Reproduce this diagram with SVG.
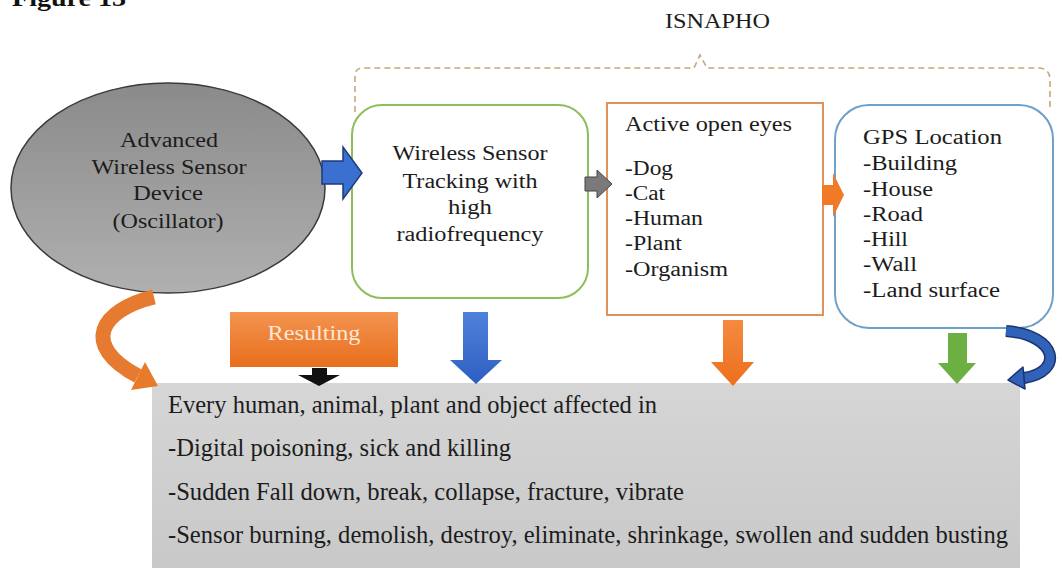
<svg xmlns="http://www.w3.org/2000/svg" width="1062" height="568" viewBox="0 0 1062 568">
<style>
text{font-family:'Liberation Serif','Times New Roman',Times,serif;font-size:20px;fill:#1c1c1c}
.c{text-anchor:middle}
.g{font-size:25px}
</style>
<defs>
<linearGradient id="ell" x1="0" y1="0" x2="0" y2="1"><stop offset="0" stop-color="#8a8a8a"/><stop offset="1" stop-color="#b0b0b0"/></linearGradient>
<linearGradient id="gbox" x1="0" y1="0" x2="0" y2="1"><stop offset="0" stop-color="#d6d6d6"/><stop offset="1" stop-color="#c8c8c8"/></linearGradient>
<linearGradient id="res" x1="0" y1="0" x2="0" y2="1"><stop offset="0" stop-color="#f39450"/><stop offset="1" stop-color="#e86e1c"/></linearGradient>
<linearGradient id="blu" x1="0" y1="0" x2="0" y2="1"><stop offset="0" stop-color="#4f82da"/><stop offset="1" stop-color="#2d5fc2"/></linearGradient>
<linearGradient id="org" x1="0" y1="0" x2="0" y2="1"><stop offset="0" stop-color="#f58a40"/><stop offset="1" stop-color="#ec6f1c"/></linearGradient>
</defs>
<rect width="1062" height="568" fill="#fff"/>
<text x="12" y="6" style="font-weight:bold;font-size:24px;fill:#111" textLength="114" lengthAdjust="spacingAndGlyphs">Figure 13</text>
<g id="isnapho">
<text x="665" y="28" textLength="105" lengthAdjust="spacingAndGlyphs">ISNAPHO</text>
</g>
<g id="connectors">
<path d="M355 112 L355 76 Q355 68 363 68 L694 68 L700 55 L707 68 L1038 68 Q1050 68 1050 80 L1050 108" fill="none" stroke="#c9a57a" stroke-width="1.6" stroke-dasharray="6 4"/>
</g>
<g id="bottom-box">
<rect x="152" y="383" width="868" height="190" fill="url(#gbox)"/>
<text class="g" x="168" y="413" textLength="489" lengthAdjust="spacingAndGlyphs">Every human, animal, plant and object affected in</text>
<text class="g" x="168" y="456" textLength="343" lengthAdjust="spacingAndGlyphs">-Digital poisoning, sick and killing</text>
<text class="g" x="168" y="500" textLength="516" lengthAdjust="spacingAndGlyphs">-Sudden Fall down, break, collapse, fracture, vibrate</text>
<text class="g" x="168" y="543" textLength="840" lengthAdjust="spacingAndGlyphs">-Sensor burning, demolish, destroy, eliminate, shrinkage, swollen and sudden busting</text>
</g>
<g id="device">
<ellipse cx="168" cy="188" rx="157" ry="105" fill="url(#ell)" stroke="#3a3a3a" stroke-width="1.5"/>
<text class="c" x="169" y="147" textLength="98" lengthAdjust="spacingAndGlyphs">Advanced</text>
<text class="c" x="169" y="174" textLength="155" lengthAdjust="spacingAndGlyphs">Wireless Sensor</text>
<text class="c" x="168" y="200" textLength="70" lengthAdjust="spacingAndGlyphs">Device</text>
<text class="c" x="168" y="228" textLength="111" lengthAdjust="spacingAndGlyphs">(Oscillator)</text>
</g>
<g id="tracking">
<rect x="352" y="105" width="236" height="193" rx="30" fill="#fff" stroke="#8cbf5a" stroke-width="2"/>
<text class="c" x="470" y="160" textLength="155" lengthAdjust="spacingAndGlyphs">Wireless Sensor</text>
<text class="c" x="470" y="188" textLength="135" lengthAdjust="spacingAndGlyphs">Tracking with</text>
<text class="c" x="470" y="214" textLength="44" lengthAdjust="spacingAndGlyphs">high</text>
<text class="c" x="470" y="241" textLength="147" lengthAdjust="spacingAndGlyphs">radiofrequency</text>
</g>
<g id="eyes">
<rect x="607" y="103" width="216" height="212" fill="#fff" stroke="#e0925a" stroke-width="2"/>
<text x="625" y="131" textLength="167" lengthAdjust="spacingAndGlyphs">Active open eyes</text>
<text x="625" y="175" textLength="48" lengthAdjust="spacingAndGlyphs">-Dog</text>
<text x="625" y="200" textLength="40" lengthAdjust="spacingAndGlyphs">-Cat</text>
<text x="625" y="225" textLength="78" lengthAdjust="spacingAndGlyphs">-Human</text>
<text x="625" y="250" textLength="57" lengthAdjust="spacingAndGlyphs">-Plant</text>
<text x="625" y="276" textLength="103" lengthAdjust="spacingAndGlyphs">-Organism</text>
</g>
<g id="gps">
<rect x="835" y="105" width="218" height="223" rx="34" fill="#fff" stroke="#6fa0c8" stroke-width="2"/>
<text x="863" y="144" textLength="139" lengthAdjust="spacingAndGlyphs">GPS Location</text>
<text x="863" y="170" textLength="94" lengthAdjust="spacingAndGlyphs">-Building</text>
<text x="863" y="196" textLength="70" lengthAdjust="spacingAndGlyphs">-House</text>
<text x="863" y="221" textLength="60" lengthAdjust="spacingAndGlyphs">-Road</text>
<text x="863" y="246" textLength="45" lengthAdjust="spacingAndGlyphs">-Hill</text>
<text x="863" y="271" textLength="54" lengthAdjust="spacingAndGlyphs">-Wall</text>
<text x="863" y="297" textLength="137" lengthAdjust="spacingAndGlyphs">-Land surface</text>
</g>
<g id="resulting">
<rect x="230" y="312" width="168" height="55" fill="url(#res)"/>
<text class="c" x="314" y="340" style="fill:#fde6d4" textLength="93" lengthAdjust="spacingAndGlyphs">Resulting</text>
</g>
<g id="arrows">
<polygon points="322,161 343,161 343,147 362,173 343,199 343,184 322,184" fill="#3b6fd0" stroke="#1d3c7a" stroke-width="1.5"/>
<polygon points="585,177 597,177 597,170 612,184 597,198 597,191 585,191" fill="#7a7a7a" stroke="#444" stroke-width="1"/>
<polygon points="822,185 833,185 833,173 844,195 833,217 833,205 822,205" fill="#f07a28"/>
<polygon points="463,312 488,312 488,360 502,360 476,384 450,360 463,360" fill="url(#blu)"/>
<polygon points="723,320 743,320 743,362 754,362 733,386 711,362 723,362" fill="url(#org)"/>
<polygon points="948,333 967,333 967,363 976,363 957,384 938,363 948,363" fill="#6cb043"/>
<polygon points="312,368 327,368 327,375 340,375 319,386 298,375 312,375" fill="#111"/>
<path d="M154 297 C100 310 80 345 138 376" fill="none" stroke="#e67a30" stroke-width="15"/>
<polygon points="131,390 145,362 158,386" fill="#e87a2c"/>
<path d="M1006 331 C1058 335 1064 372 1024 378" fill="none" stroke="#1c3470" stroke-width="12"/>
<path d="M1006 331 C1058 335 1064 372 1024 378" fill="none" stroke="#2f62b8" stroke-width="9"/>
<polygon points="1025,389 1023,367 1008,380" fill="#2f62b8" stroke="#1c3470" stroke-width="1.5" stroke-linejoin="round"/>
</g>
</svg>
